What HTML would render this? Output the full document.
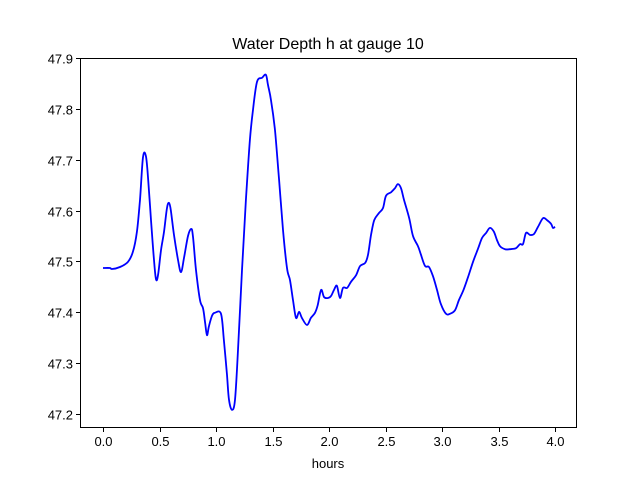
<!DOCTYPE html>
<html><head><meta charset="utf-8"><style>
html,body{margin:0;padding:0;background:#fff;}
svg{display:block;font-family:"Liberation Sans","DejaVu Sans",sans-serif;}
</style></head><body>
<svg width="640" height="480">
<rect width="640" height="480" fill="#fff"/>
<text x="328" y="49" text-anchor="middle" font-size="16">Water Depth h at gauge 10</text>
<g id="ticks"></g>
<path id="line" fill="none" stroke="#0000ff" stroke-width="1.8" stroke-linejoin="round"/>
<rect x="80.5" y="58.5" width="496" height="369" fill="none" stroke="#000" stroke-width="1"/>
<text x="328" y="468" text-anchor="middle" font-size="13">hours</text>
</svg>
<script>
const hours=[0,0.062,0.08,0.15,0.22,0.265,0.30,0.327,0.354,0.38,0.40,0.425,0.451,0.469,0.487,0.513,0.54,0.566,0.584,0.60,0.628,0.664,0.69,0.717,0.752,0.78,0.796,0.823,0.858,0.885,0.903,0.92,0.938,0.965,0.99,1.044,1.07,1.097,1.115,1.142,1.168,1.195,1.23,1.265,1.30,1.327,1.363,1.407,1.442,1.46,1.487,1.522,1.558,1.593,1.628,1.655,1.681,1.708,1.735,1.76,1.805,1.84,1.876,1.90,1.93,1.956,1.99,2.018,2.044,2.07,2.097,2.124,2.16,2.195,2.24,2.275,2.32,2.345,2.372,2.40,2.442,2.478,2.504,2.549,2.584,2.61,2.637,2.664,2.71,2.743,2.788,2.814,2.85,2.885,2.92,2.956,2.99,3.035,3.07,3.115,3.15,3.19,3.23,3.274,3.32,3.354,3.39,3.425,3.46,3.487,3.513,3.558,3.60,3.655,3.69,3.717,3.743,3.78,3.814,3.85,3.894,3.93,3.965,3.982,4.0];
const depth=[47.487,47.487,47.485,47.489,47.499,47.519,47.558,47.621,47.705,47.707,47.66,47.581,47.503,47.465,47.473,47.522,47.558,47.605,47.615,47.601,47.552,47.503,47.479,47.507,47.55,47.564,47.55,47.483,47.424,47.408,47.381,47.355,47.373,47.393,47.399,47.397,47.345,47.277,47.228,47.208,47.228,47.326,47.483,47.621,47.739,47.798,47.853,47.861,47.867,47.847,47.817,47.758,47.66,47.562,47.487,47.463,47.424,47.389,47.401,47.389,47.375,47.389,47.399,47.414,47.444,47.43,47.428,47.432,47.444,47.452,47.428,47.448,47.448,47.46,47.473,47.491,47.497,47.513,47.552,47.581,47.595,47.605,47.629,47.636,47.644,47.652,47.644,47.621,47.585,47.55,47.53,47.513,47.491,47.489,47.471,47.444,47.416,47.397,47.397,47.404,47.424,47.444,47.469,47.499,47.526,47.546,47.556,47.566,47.558,47.542,47.53,47.524,47.524,47.526,47.534,47.534,47.556,47.552,47.554,47.568,47.585,47.581,47.574,47.566,47.568];
const xTicks=[0,0.5,1,1.5,2,2.5,3,3.5,4];
const xTickLabels=["0.0","0.5","1.0","1.5","2.0","2.5","3.0","3.5","4.0"];
const yTicks=[47.2,47.3,47.4,47.5,47.6,47.7,47.8,47.9];
const yTickLabels=["47.2","47.3","47.4","47.5","47.6","47.7","47.8","47.9"];
const X=h=>103+h*113;
const Y=v=>414-(v-47.2)*508.6;
const NS="http://www.w3.org/2000/svg";
const g=document.getElementById('ticks');
function mk(tag,attrs){const e=document.createElementNS(NS,tag);for(const k in attrs)e.setAttribute(k,attrs[k]);g.appendChild(e);return e;}
xTicks.forEach((t,i)=>{
  const px=Math.round(X(t))+0.5;
  const l=mk('line',{x1:px,x2:px,y1:428,y2:432,stroke:'#000'});
  
  
  const tx=mk('text',{x:px,y:446,'text-anchor':'middle','font-size':'13'});
  tx.textContent=xTickLabels[i];
  
  
});
yTicks.forEach((t,i)=>{
  const py=Math.round(Y(t))+0.5;
  const l=mk('line',{x1:76,x2:80,y1:py,y2:py,stroke:'#000'});
  
  
  const tx=mk('text',{x:73,y:py+5,'text-anchor':'end','font-size':'13'});
  tx.textContent=yTickLabels[i];
  
  
});
const pts=hours.map((h,i)=>[X(h),Y(depth[i])]);
let d='M'+pts[0][0].toFixed(1)+' '+pts[0][1].toFixed(1);
for(let i=0;i<pts.length-1;i++){
  const p0=pts[Math.max(0,i-1)],p1=pts[i],p2=pts[i+1],p3=pts[Math.min(pts.length-1,i+2)];
  const c1=[p1[0]+(p2[0]-p0[0])/6,p1[1]+(p2[1]-p0[1])/6];
  const c2=[p2[0]-(p3[0]-p1[0])/6,p2[1]-(p3[1]-p1[1])/6];
  d+=' C'+c1[0].toFixed(1)+' '+c1[1].toFixed(1)+' '+c2[0].toFixed(1)+' '+c2[1].toFixed(1)+' '+p2[0].toFixed(1)+' '+p2[1].toFixed(1);
}
document.getElementById('line').setAttribute('d',d);
</script>
</body></html>
